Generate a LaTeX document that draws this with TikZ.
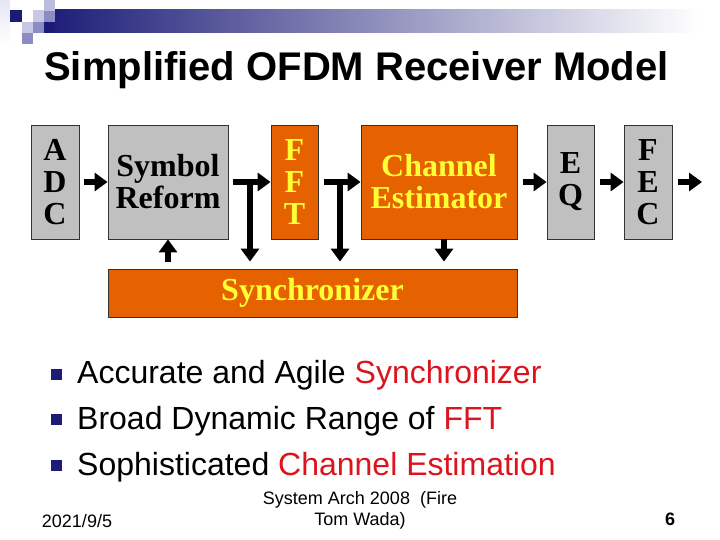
\documentclass[tikz,border=0pt]{standalone}
\usepackage{fontspec}
\setmainfont{Liberation Serif}
\setsansfont{Liberation Sans}
\usetikzlibrary{arrows.meta}
\definecolor{boxgray}{RGB}{192,192,192}
\definecolor{orng}{RGB}{230,97,0}
\definecolor{ylw}{RGB}{255,255,51}
\definecolor{navy}{RGB}{28,28,120}
\definecolor{midnavy}{RGB}{165,165,195}
\definecolor{sqlight}{RGB}{200,200,228}
\definecolor{sqmed}{RGB}{140,140,196}
\definecolor{sqpale}{RGB}{230,230,243}
\definecolor{redtxt}{RGB}{220,20,30}
\begin{document}
\begin{tikzpicture}[x=1bp,y=-1bp,
 blk/.style={draw=black!80, line width=0.8bp, inner sep=0pt, align=center, font=\fontsize{32bp}{32bp}\selectfont\bfseries},
 graybox/.style={blk, fill=boxgray, text=black},
 orbox/.style={blk, fill=orng, text=ylw},
 arr/.style={line width=6.5bp, -{Triangle[length=13bp,width=18bp]}},
 bulletsq/.style={fill=navy, minimum size=11bp, inner sep=0pt},
 btxt/.style={font=\sffamily\fontsize{32bp}{38bp}\selectfont, anchor=base west, inner sep=0pt},
 foot/.style={font=\sffamily\fontsize{18bp}{21bp}\selectfont, align=center, inner sep=0pt}]
\useasboundingbox (0,0) rectangle (720,540);
\fill[white] (0,0) rectangle (720,540);
% header decoration
\shade[left color=navy, middle color=midnavy, right color=white] (44,10) rectangle (700,33);
\shade[top color=sqpale, bottom color=white] (0,0) rectangle (10,44);
\fill[navy] (10,10) rectangle (22,22);
\fill[sqlight] (33,10) rectangle (44,22);
\fill[sqlight!80!sqmed] (44,0) rectangle (55,11);
\fill[sqmed] (44,11) rectangle (55,22);
\fill[sqlight] (22,22) rectangle (33,33);
\fill[sqmed] (33,22) rectangle (44,33);
\fill[navy] (44,22) rectangle (55,33);
\fill[sqmed] (22,33) rectangle (33,44);
% title
\node[font=\sffamily\bfseries\fontsize{40bp}{48bp}\selectfont, anchor=base west, inner sep=0pt] (title) at (44,81) {Simplified OFDM Receiver Model};
% blocks
\node[graybox, minimum width=48bp, minimum height=114bp] (adc) at (55,182) {A\\D\\C};
\node[graybox, minimum width=120bp, minimum height=114bp] (sr) at (168,182) {Symbol\\Reform};
\node[orbox, minimum width=47bp, minimum height=114bp] (fft) at (294.5,182) {F\\F\\T};
\node[orbox, minimum width=156bp, minimum height=114bp] (ce) at (439,182) {Channel\\Estimator};
\node[graybox, minimum width=47bp, minimum height=114bp] (eq) at (570.5,182) {E\\Q};
\node[graybox, minimum width=48bp, minimum height=114bp] (fec) at (648,182) {F\\E\\C};
\node[orbox, minimum width=409bp, minimum height=48bp] (sync) at (312.5,293) {Synchronizer};
\coordinate (out) at (702,182);
\coordinate (b1) at (250,179);
\coordinate (b2) at (340,179);
\coordinate (c1) at (444,239);
% arrows
\draw[arr, shorten <=5bp] (adc.east) -- (sr.west);
\draw[arr, shorten <=5bp] (sr.east) -- (fft.west);
\draw[arr, shorten <=6bp] (fft.east) -- (ce.west);
\draw[arr, shorten <=6bp] (ce.east) -- (eq.west);
\draw[arr, shorten <=6bp] (eq.east) -- (fec.west);
\draw[arr, shorten <=6bp] (fec.east) -- (out);
\draw[arr, shorten >=7bp] (b1) -- (b1 |- sync.north);
\draw[arr, shorten >=7bp] (b2) -- (b2 |- sync.north);
\draw[arr, shorten <=7bp] (sr.south |- sync.north) -- (sr.south);
\draw[arr, shorten >=7bp] (c1) -- (c1 |- sync.north);
% bullets
\node[bulletsq] (q1) at (56,374) {};
\node[bulletsq] (q2) at (56,419) {};
\node[bulletsq] (q3) at (56,465) {};
\node[btxt] (t1) at (77,383) {Accurate and Agile \textcolor{redtxt}{Synchronizer}};
\node[btxt] (t2) at (77,429) {Broad Dynamic Range of \textcolor{redtxt}{FFT}};
\node[btxt] (t3) at (77,475) {Sophisticated \textcolor{redtxt}{Channel Estimation}};
% footer
\node[foot] (date) at (77,521) {2021/9/5};
\node[foot] (src) at (360,510) {System Arch 2008\ \ (Fire\\Tom Wada)};
\node[foot, font=\sffamily\bfseries\fontsize{18bp}{21bp}\selectfont] (pg) at (670,519) {6};
\end{tikzpicture}
\end{document}
